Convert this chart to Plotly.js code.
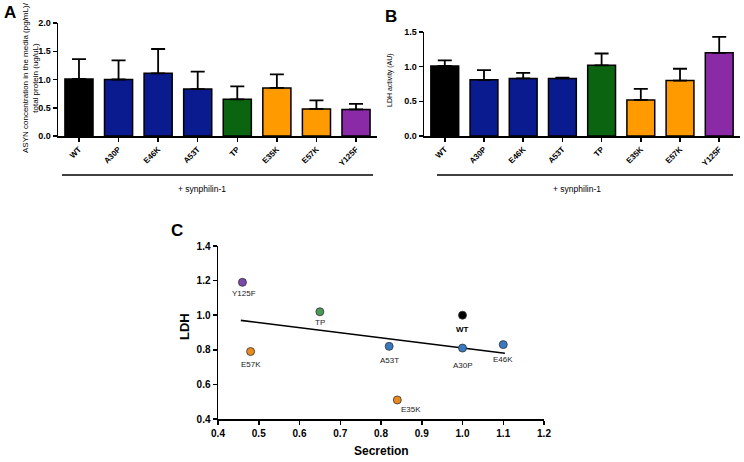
<!DOCTYPE html>
<html><head><meta charset="utf-8">
<script src="https://cdn.plot.ly/plotly-3.0.1.min.js"></script>
<style>body{margin:0;background:#fff}#g{width:744px;height:462px}</style>
</head><body><div id="g"></div>
<script>
// ---- data ----
const categories = ["WT","A30P","E46K","A53T","TP","E35K","E57K","Y125F"];
const secretionMean = [1.01,1.00,1.11,0.83,0.65,0.85,0.48,0.47];
const secretionErrTop = [1.36,1.34,1.54,1.14,0.88,1.09,0.63,0.57];
const ldhMean = [1.01,0.81,0.83,0.83,1.02,0.52,0.80,1.20];
const ldhErrTop = [1.09,0.95,0.91,0.84,1.19,0.68,0.97,1.43];
const barColors = ["#000000","#0a1a8f","#0a1a8f","#0a1a8f","#0b6410","#ff9a00","#ff9a00","#8a2aa6"];
const scatterX = [1.00,1.00,1.10,0.82,0.65,0.84,0.48,0.46];
const scatterY = [1.00,0.81,0.83,0.82,1.02,0.51,0.79,1.19];
const pointColors = ["#000000","#3a78c0","#3a78c0","#3a78c0","#4c9a5a","#e88a20","#e88a20","#7a48a8"];
const fitX = [0.456,1.104];
const fitY = [0.970,0.780];
const yTicksA = [0,0.5,1.0,1.5,2.0];
const yTicksB = [0,0.5,1.0,1.5];
const xTicksC = [0.4,0.5,0.6,0.7,0.8,0.9,1.0,1.1,1.2];
const yTicksC = [0.4,0.6,0.8,1.0,1.2,1.4];

const W=744,H=462;
const px = x=>x/W, py = y=>1-y/H;
const FONT = "Liberation Sans, Arial, sans-serif";

function bars(xa,ya,vals,tops){
  return {type:"bar",x:categories,y:vals,xaxis:xa,yaxis:ya,
    marker:{color:barColors,line:{color:"#000",width:1.5}},
    error_y:{type:"data",symmetric:false,array:tops.map((t,i)=>t-vals[i]),arrayminus:vals.map(()=>0),
      color:"#000",thickness:1.8,width:7},
    showlegend:false,hoverinfo:"skip"};
}
const traces = [
  bars("x","y",secretionMean,secretionErrTop),
  bars("x2","y2",ldhMean,ldhErrTop),
  {type:"scatter",mode:"lines",x:fitX,y:fitY,xaxis:"x3",yaxis:"y3",line:{color:"#000",width:1.6},showlegend:false,hoverinfo:"skip"},
  {type:"scatter",mode:"markers",x:scatterX,y:scatterY,xaxis:"x3",yaxis:"y3",
    marker:{color:pointColors,size:8,line:{color:"#333",width:0.8}},showlegend:false,hoverinfo:"skip"}
];

const barX = {type:"category",range:[-0.53,7.53],showline:true,linecolor:"#000",linewidth:1.5,
  ticks:"outside",ticklen:4,tickcolor:"#000",tickwidth:1.5,tickangle:-45,
  tickfont:{family:FONT,size:8,color:"#000",weight:"bold"},showgrid:false,zeroline:false,fixedrange:true};
function barY(range,tv){
  return {range:range,tickvals:tv,ticktext:tv.map(v=>v.toFixed(1)),showline:true,linecolor:"#000",linewidth:1.5,
    ticks:"outside",ticklen:4,tickcolor:"#000",tickwidth:1.5,
    tickfont:{family:FONT,size:9,color:"#000",weight:"bold"},showgrid:false,zeroline:false,fixedrange:true};
}

const layout = {
  width:W,height:H,margin:{l:0,r:0,t:0,b:0},paper_bgcolor:"#fff",plot_bgcolor:"rgba(0,0,0,0)",
  bargap:0.29,
  xaxis:Object.assign({},barX,{domain:[px(58),px(377)],anchor:"y"}),
  yaxis:Object.assign(barY([0,2],yTicksA),{domain:[py(136),py(23)],anchor:"x"}),
  xaxis2:Object.assign({},barX,{domain:[px(424),px(740)],anchor:"y2"}),
  yaxis2:Object.assign(barY([0,1.5],yTicksB),{domain:[py(136),py(32)],anchor:"x2"}),
  xaxis3:{domain:[px(218),px(544)],anchor:"y3",range:[0.4,1.2],tickvals:xTicksC,ticktext:xTicksC.map(v=>v.toFixed(1)),
    showline:true,linecolor:"#000",linewidth:1.5,ticks:"outside",ticklen:4,tickwidth:1.5,tickcolor:"#000",
    tickfont:{family:FONT,size:10,color:"#000",weight:"bold"},showgrid:false,zeroline:false,fixedrange:true},
  yaxis3:{domain:[py(419),py(246)],anchor:"x3",range:[0.4,1.4],tickvals:yTicksC,ticktext:yTicksC.map(v=>v.toFixed(1)),
    showline:true,linecolor:"#000",linewidth:1.5,ticks:"outside",ticklen:4,tickwidth:1.5,tickcolor:"#000",
    tickfont:{family:FONT,size:10,color:"#000",weight:"bold"},showgrid:false,zeroline:false,fixedrange:true},
  shapes:[
    {type:"line",xref:"paper",yref:"paper",x0:px(62),x1:px(373),y0:py(175),y1:py(175),line:{color:"#000",width:1.6}},
    {type:"line",xref:"paper",yref:"paper",x0:px(437),x1:px(733),y0:py(175),y1:py(175),line:{color:"#000",width:1.6}}
  ],
  annotations:[]
};
const A = layout.annotations;
function txt(x,y,t,size,bold,extra){
  A.push(Object.assign({xref:"paper",yref:"paper",x:px(x),y:py(y),text:t,showarrow:false,
    font:{family:FONT,size:size,color:"#000",weight:bold?"bold":"normal"},xanchor:"center",yanchor:"middle"},extra||{}));
}
txt(10,13,"A",17,true);
txt(391,16,"B",17,true);
txt(177,230,"C",17,true);
txt(31,78,"ASYN concentration in the media (pg/mL)/<br>total protein (ug/uL)",8,false,{textangle:-90});
txt(390,80,"LDH activity (AU)",7,false,{textangle:-90});
txt(202,189,"+ synphilin-1",8.5,false);
txt(577,189,"+ synphilin-1",8.5,false);
txt(184,327,"LDH",13,true,{textangle:-90});
txt(381,451,"Secretion",12,true);
// point labels (offsets are styling only)
const labelOff = {WT:[0,14],A30P:[0,17],E46K:[0,15],A53T:[0,14],TP:[0,11],E35K:[14,10],E57K:[0,13],Y125F:[2,11]};
categories.forEach((c,i)=>{
  A.push({xref:"x3",yref:"y3",x:scatterX[i],y:scatterY[i],text:c,showarrow:false,
    xshift:labelOff[c][0],yshift:-labelOff[c][1],xanchor:"center",yanchor:"middle",
    font:{family:FONT,size:8,color:c==="WT"?"#000":"#222",weight:c==="WT"?"bold":"normal"}});
});

Plotly.newPlot("g",traces,layout,{displayModeBar:false,staticPlot:true});
</script></body></html>
